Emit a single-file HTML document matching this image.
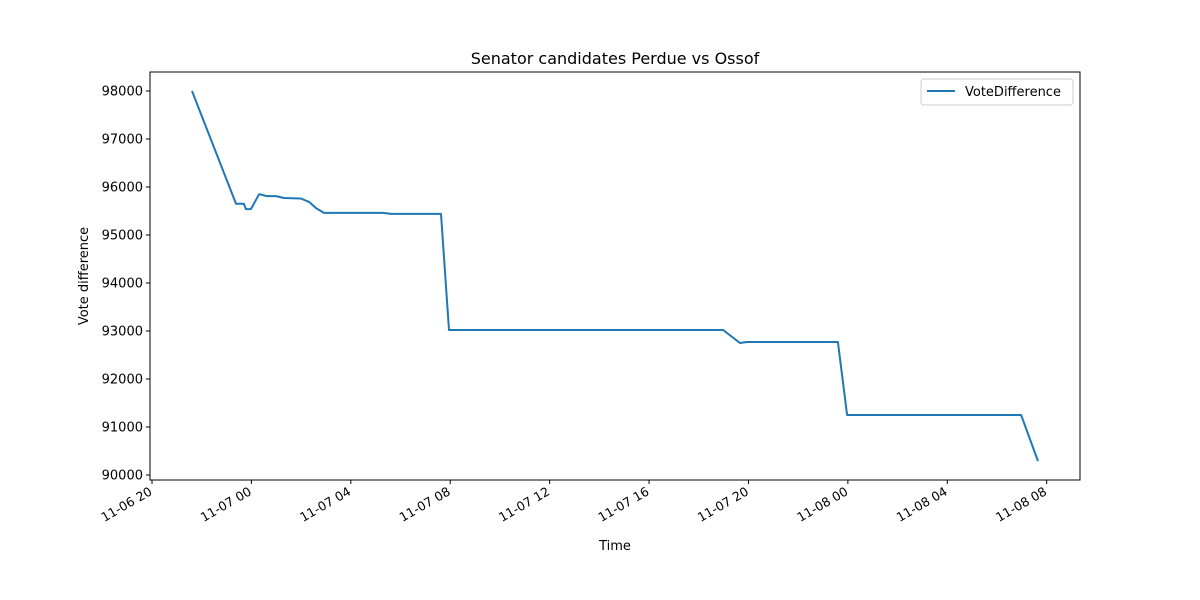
<!DOCTYPE html>
<html><head><meta charset="utf-8"><style>
body{margin:0;background:#fff;}
svg{display:block;font-family:"DejaVu Sans","Liberation Sans",sans-serif;}
</style></head><body>
<svg id="chart" width="1200" height="600">
<text x="615" y="64" text-anchor="middle" font-size="16">Senator candidates Perdue vs Ossof</text>
<text x="615" y="550" text-anchor="middle" font-size="13">Time</text>
<text transform="translate(88,276) rotate(-90)" text-anchor="middle" font-size="13">Vote difference</text>
<g id="ticks"></g>
<polyline id="line" fill="none" stroke="#1f77b4" stroke-width="2" stroke-linejoin="round"/>
<rect x="150" y="72" width="930" height="408" fill="none" stroke="#000" stroke-width="1"/>
<g>
<rect x="921" y="79" width="152" height="26" rx="3" fill="#fff" stroke="#ccc"/>
<line x1="927" y1="91" x2="955" y2="91" stroke="#1f77b4" stroke-width="2"/>
<text x="965" y="96" font-size="13">VoteDifference</text>
</g>
</svg>
<script>
// hours since 11-06 20:00
const hours=[1.61,3.38,3.70,3.78,3.98,4.31,4.63,4.99,5.31,5.99,6.32,6.60,6.92,9.30,9.62,11.63,11.95,22.98,23.66,23.94,27.60,27.97,34.97,35.65];
const votes=[98000,95650,95650,95540,95540,95850,95810,95810,95770,95760,95690,95560,95460,95460,95440,95440,93020,93020,92750,92770,92770,91250,91250,90290];
const yTicks=[90000,91000,92000,93000,94000,95000,96000,97000,98000];
const xTickHours=[0,4,8,12,16,20,24,28,32,36];
const xTickLabels=["11-06 20","11-07 00","11-07 04","11-07 08","11-07 12","11-07 16","11-07 20","11-08 00","11-08 04","11-08 08"];
const L=150,T=72,W=930,H=408,x0=-0.08,x1=37.34,y0=89896,y1=98396;
const X=h=>L+(h-x0)/(x1-x0)*W;
const Y=v=>T+H-(v-y0)/(y1-y0)*H;
const ns="http://www.w3.org/2000/svg";
const line=document.getElementById('line');
line.setAttribute('points',hours.map((h,i)=>X(h).toFixed(1)+','+Y(votes[i]).toFixed(1)).join(' '));
const g=document.getElementById('ticks');
yTicks.forEach(v=>{
 const y=Y(v);
 const t=document.createElementNS(ns,'line');
 t.setAttribute('x1',L-4);t.setAttribute('x2',L);t.setAttribute('y1',y);t.setAttribute('y2',y);t.setAttribute('stroke','#000');
 
 
 g.appendChild(t);
 const s=document.createElementNS(ns,'text');
 s.setAttribute('x',L-7);s.setAttribute('y',y+4.5);s.setAttribute('text-anchor','end');s.setAttribute('font-size','13');
 s.textContent=v;
 
 
 g.appendChild(s);
});
xTickHours.forEach((h,i)=>{
 const x=X(h);
 const t=document.createElementNS(ns,'line');
 t.setAttribute('x1',x);t.setAttribute('x2',x);t.setAttribute('y1',T+H);t.setAttribute('y2',T+H+4);t.setAttribute('stroke','#000');
 
 
 g.appendChild(t);
 const s=document.createElementNS(ns,'text');
 s.setAttribute('transform','translate('+(x+1)+','+(T+H+14)+') rotate(-30)');
 s.setAttribute('text-anchor','end');s.setAttribute('font-size','12.5');
 s.textContent=xTickLabels[i];
 
 
 g.appendChild(s);
});
</script>
</body></html>
